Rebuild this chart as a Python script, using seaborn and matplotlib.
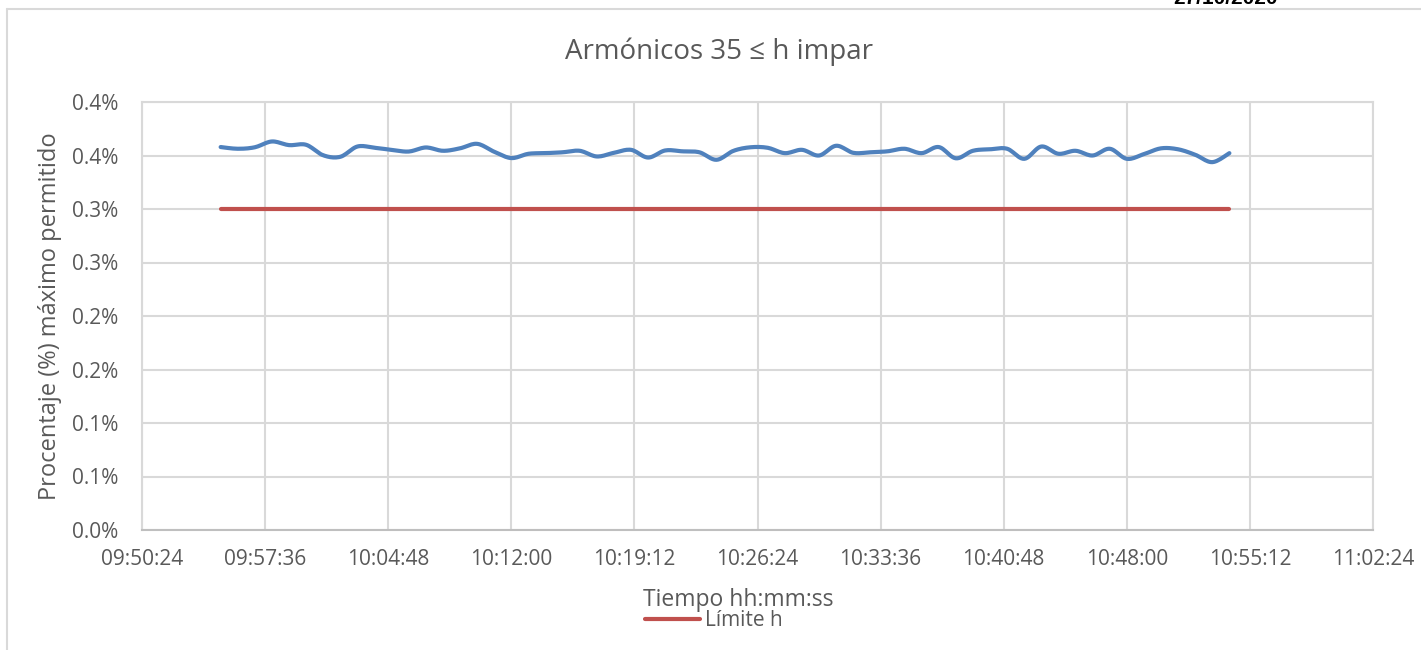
import numpy as np
import pandas as pd
import matplotlib
matplotlib.use("Agg")
import matplotlib.pyplot as plt
from matplotlib.lines import Line2D
from matplotlib.ticker import FuncFormatter, FixedLocator
import seaborn as sns

# ---------------- data ----------------
start_time = "09:55:00"
step_seconds = 60
armonicos = [0.3579, 0.3563, 0.3577, 0.3631, 0.3597, 0.3600, 0.3502, 0.3488, 0.3584, 0.3572,
             0.3553, 0.3537, 0.3575, 0.3544, 0.3567, 0.3609, 0.3535, 0.3476, 0.3516, 0.3522,
             0.3530, 0.3544, 0.3491, 0.3525, 0.3553, 0.3481, 0.3547, 0.3539, 0.3530, 0.3460,
             0.3544, 0.3577, 0.3572, 0.3522, 0.3553, 0.3500, 0.3591, 0.3525, 0.3530, 0.3539,
             0.3563, 0.3522, 0.3579, 0.3474, 0.3544, 0.3558, 0.3563, 0.3469, 0.3584, 0.3516,
             0.3544, 0.3500, 0.3563, 0.3469, 0.3513, 0.3567, 0.3558, 0.3507, 0.3438, 0.3522]
limite = 0.30
y_ticks = [0.0, 0.05, 0.10, 0.15, 0.20, 0.25, 0.30, 0.35, 0.40]
y_tick_labels = ["0.0%", "0.1%", "0.1%", "0.2%", "0.2%", "0.3%", "0.3%", "0.4%", "0.4%"]
x_min_label = "09:50:24"
x_max_label = "11:02:24"
x_step_seconds = 432
title = "Armónicos 35 ≤ h impar"
xlabel = "Tiempo hh:mm:ss"
ylabel = "Procentaje (%) máximo permitido"
legend_label = "Límite h"
date_text = "27/10/2020"


def to_sec(s):
    h, m, sec = map(int, s.split(":"))
    return h * 3600 + m * 60 + sec


t0 = to_sec(start_time)
times = [t0 + i * step_seconds for i in range(len(armonicos))]
df = pd.DataFrame({"t": times, "v": armonicos, "lim": [limite] * len(armonicos)})


def smooth(x, y, n=12):
    # Bezier smoothing like a spreadsheet "smoothed line"
    x = np.asarray(x, float); y = np.asarray(y, float)
    px = np.concatenate([[x[0]], x, [x[-1]]])
    py = np.concatenate([[y[0]], y, [y[-1]]])
    xs, ys = [], []
    tt = np.linspace(0, 1, n, endpoint=False)
    for i in range(1, len(px) - 2):
        p0 = np.array([px[i - 1], py[i - 1]]); p1 = np.array([px[i], py[i]])
        p2 = np.array([px[i + 1], py[i + 1]]); p3 = np.array([px[i + 2], py[i + 2]])
        b1 = p1 + (p2 - p0) / 6.0
        b2 = p2 - (p3 - p1) / 6.0
        for t in tt:
            pt = ((1 - t) ** 3) * p1 + 3 * ((1 - t) ** 2) * t * b1 + 3 * (1 - t) * t * t * b2 + t ** 3 * p2
            xs.append(pt[0]); ys.append(pt[1])
    xs.append(x[-1]); ys.append(y[-1])
    return np.array(xs), np.array(ys)


sx, sy = smooth(df["t"], df["v"])
sdf = pd.DataFrame({"t": sx, "v": sy})

# ---------------- figure ----------------
sns.set_theme(style="white")
plt.rcParams["font.family"] = ["Open Sans", "DejaVu Sans"]

W, H = 1421, 650
fig = plt.figure(figsize=(14.21, 6.5), dpi=100)
ax = fig.add_axes([142 / W, 1 - 530 / H, (1373 - 142) / W, (530 - 102) / H])

blue = "#4F81BD"
red = "#C0504D"
sns.lineplot(data=sdf, x="t", y="v", ax=ax, color=blue, linewidth=3.0, label="_nolegend_")
sns.lineplot(data=df, x="t", y="lim", ax=ax, color=red, linewidth=3.0, label=legend_label)

xmin, xmax = to_sec(x_min_label), to_sec(x_max_label)
ax.set_xlim(xmin, xmax)
ax.set_ylim(y_ticks[0], y_ticks[-1])
ax.xaxis.set_major_locator(FixedLocator(np.arange(xmin, xmax + 1, x_step_seconds)))
ax.xaxis.set_major_formatter(FuncFormatter(
    lambda v, p: "%02d:%02d:%02d" % (int(round(v)) // 3600, (int(round(v)) % 3600) // 60, int(round(v)) % 60)))
ax.set_yticks(y_ticks)
ax.set_yticklabels(y_tick_labels)

grid_c = "#D9D9D9"
ax.grid(True, color=grid_c, linewidth=1.5)
ax.set_axisbelow(True)
for side in ["top", "right", "left"]:
    ax.spines[side].set_color(grid_c)
    ax.spines[side].set_linewidth(1.5)
ax.spines["bottom"].set_color("#BFBFBF")
ax.spines["bottom"].set_linewidth(1.5)

tick_c = "#595959"
ax.tick_params(axis="both", length=0, labelsize=15, colors=tick_c)
ax.tick_params(axis="y", pad=17)
ax.tick_params(axis="x", pad=14)

ax.set_xlabel("")
ax.set_ylabel("")
if ax.legend_:
    ax.legend_.remove()

fig.text(738 / W, 1 - 600 / H, xlabel, ha="center", va="center", fontsize=16.5, color=tick_c)
fig.text(50 / W, 1 - 316 / H, ylabel, ha="center", va="center", rotation=90, fontsize=17, color=tick_c)
fig.text(719 / W, 1 - 52 / H, title, ha="center", va="center", fontsize=20, color=tick_c)

handles = [Line2D([0], [0], color=red, linewidth=3.0)]
fig.legend(handles, [legend_label], loc="center", bbox_to_anchor=(714 / W, 1 - 621 / H),
           frameon=False, fontsize=15, handlelength=2.6, handletextpad=0.25,
           labelcolor=tick_c, borderaxespad=0)

# chart-area border (clipped)
fig.add_artist(Line2D([7 / W, 7 / W], [0, 1 - 9 / H], transform=fig.transFigure, color=grid_c, linewidth=1.5))
fig.add_artist(Line2D([7 / W, 1], [1 - 9 / H, 1 - 9 / H], transform=fig.transFigure, color=grid_c, linewidth=1.5))

fig.text(1225 / W, 1 - 4 / H, date_text, ha="center", va="baseline", fontsize=15,
         fontweight="bold", family=["Liberation Sans", "DejaVu Sans"], color="black")

fig.savefig("out.png", dpi=100)
